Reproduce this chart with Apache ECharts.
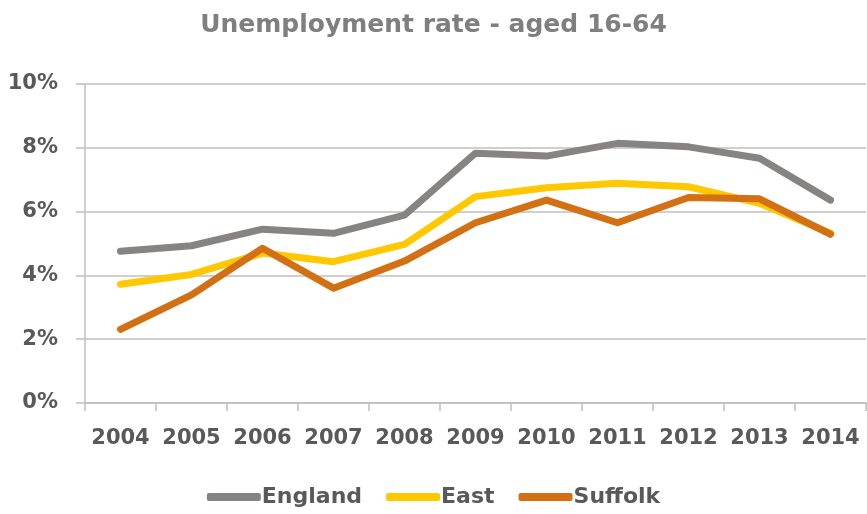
<!DOCTYPE html>
<html>
<head>
<meta charset="utf-8">
<script src="https://cdn.jsdelivr.net/npm/echarts@6/dist/echarts.min.js"></script>
<style>
  html, body { margin: 0; padding: 0; background: #fff; }
  #chart { width: 867px; height: 514px; }
</style>
</head>
<body>
<div id="chart"></div>
<script>
// Unemployment rate (%) for people aged 16-64
const years = ['2004', '2005', '2006', '2007', '2008', '2009', '2010', '2011', '2012', '2013', '2014'];
const england = [4.76, 4.93, 5.45, 5.32, 5.89, 7.83, 7.74, 8.14, 8.03, 7.67, 6.36];
const east    = [3.72, 4.03, 4.70, 4.43, 4.97, 6.47, 6.75, 6.89, 6.78, 6.26, 5.32];
const suffolk = [2.31, 3.39, 4.85, 3.60, 4.45, 5.65, 6.36, 5.65, 6.44, 6.40, 5.29];
const seriesNames = ['England', 'East', 'Suffolk'];
const seriesColors = ['#878382', '#FFC800', '#D27013'];

const FONT = '"DejaVu Sans", sans-serif';
const chart = echarts.init(document.getElementById('chart'));

function lineSeries(name, data, color) {
  return {
    name: name,
    type: 'line',
    data: data,
    symbol: 'none',
    smooth: false,
    color: color,
    lineStyle: { width: 7, color: color, cap: 'round', join: 'round' },
    animation: false
  };
}

chart.setOption({
  backgroundColor: '#ffffff',
  title: {
    text: 'Unemployment rate - aged 16-64',
    left: 'center',
    top: 8,
    textStyle: { fontFamily: FONT, fontSize: 25, fontWeight: 'bold', color: '#7f7f7f' }
  },
  legend: {
    data: seriesNames,
    bottom: 1,
    left: 'center',
    icon: 'roundRect',
    itemWidth: 54,
    itemHeight: 8,
    itemGap: 24,
    textStyle: { fontFamily: FONT, fontSize: 22, fontWeight: 'bold', color: '#595959', padding: [0, 0, 0, -4] }
  },
  grid: { left: 85, right: 1, top: 84, bottom: 111, containLabel: false },
  xAxis: {
    type: 'category',
    data: years,
    boundaryGap: true,
    axisLine: { lineStyle: { color: '#bfbfbf', width: 1.5 } },
    axisTick: { show: true, length: 8, lineStyle: { color: '#bfbfbf', width: 1.5 } },
    axisLabel: { interval: 0, hideOverlap: false, fontFamily: FONT, fontSize: 21, fontWeight: 'bold', color: '#595959', margin: 25 }
  },
  yAxis: {
    type: 'value',
    min: 0,
    max: 10,
    interval: 2,
    axisLine: { show: true, lineStyle: { color: '#bfbfbf', width: 1.5 } },
    axisTick: { show: true, length: 9, lineStyle: { color: '#bfbfbf', width: 1.5 } },
    splitLine: { lineStyle: { color: '#bfbfbf', width: 1.5 } },
    axisLabel: { fontFamily: FONT, fontSize: 21, fontWeight: 'bold', color: '#595959', margin: 27, formatter: '{value}%' }
  },
  series: [
    lineSeries(seriesNames[0], england, seriesColors[0]),
    lineSeries(seriesNames[1], east, seriesColors[1]),
    lineSeries(seriesNames[2], suffolk, seriesColors[2])
  ]
});
</script>
</body>
</html>
